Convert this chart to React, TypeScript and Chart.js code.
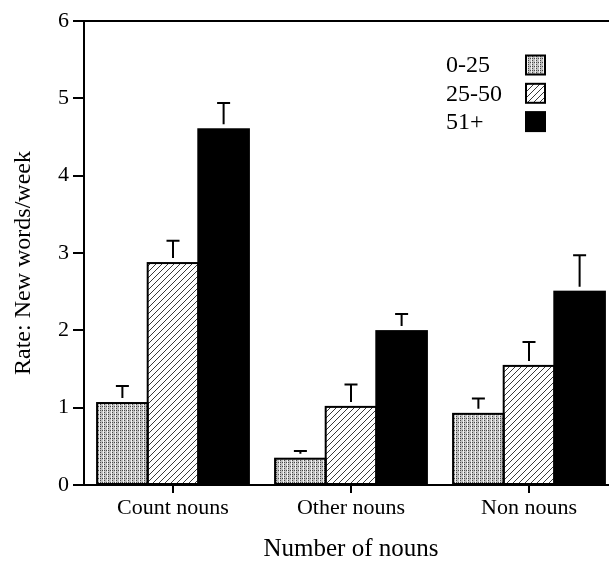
import { useEffect, useRef } from "react";
import { Chart, registerables } from "chart.js";

Chart.register(...registerables);

const categories = ["Count nouns", "Other nouns", "Non nouns"];
const seriesLabels = ["0-25", "25-50", "51+"];
const values0to25 = [1.06, 0.34, 0.92];
const values25to50 = [2.87, 1.01, 1.54];
const values51plus = [4.6, 1.99, 2.5];
const errors0to25 = [0.22, 0.1, 0.2];
const errors25to50 = [0.29, 0.29, 0.31];
const errors51plus = [0.34, 0.22, 0.47];
const yMin = 0;
const yMax = 6;
const yStep = 1;
const xTitle = "Number of nouns";
const yTitle = "Rate: New words/week";

const FONT = "'Liberation Serif', 'Times New Roman', serif";
const CANVAS_W = 624;
const CANVAS_H = 563;

function makeStipple(): CanvasPattern | string {
  const c = document.createElement("canvas");
  c.width = 4;
  c.height = 4;
  const g = c.getContext("2d");
  if (!g) return "#bbb";
  g.fillStyle = "#c0c0c0";
  g.fillRect(0, 0, 4, 4);
  g.fillStyle = "#4a4a4a";
  g.fillRect(0, 0, 1, 1);
  g.fillRect(2, 2, 1, 1);
  g.fillRect(0, 2, 1, 1);
  g.fillStyle = "#f2f2f2";
  g.fillRect(3, 0, 1, 4);
  const p = g.createPattern(c, "repeat");
  return p || "#bbb";
}

function makeHatch(): CanvasPattern | string {
  const s = 6;
  const c = document.createElement("canvas");
  c.width = s;
  c.height = s;
  const g = c.getContext("2d");
  if (!g) return "#fff";
  g.fillStyle = "#ffffff";
  g.fillRect(0, 0, s, s);
  g.strokeStyle = "#3a3a3a";
  g.lineWidth = 1;
  g.beginPath();
  g.moveTo(0, s);
  g.lineTo(s, 0);
  g.moveTo(-1, 1);
  g.lineTo(1, -1);
  g.moveTo(s - 1, s + 1);
  g.lineTo(s + 1, s - 1);
  g.stroke();
  const p = g.createPattern(c, "repeat");
  return p || "#fff";
}

const barDecor = {
  id: "barDecor",
  afterDatasetsDraw(chart: any) {
    const ctx = chart.ctx;
    const yScale = chart.scales.y;
    ctx.save();
    ctx.strokeStyle = "#000";
    ctx.lineWidth = 2;
    chart.data.datasets.forEach((ds: any, i: number) => {
      const meta = chart.getDatasetMeta(i);
      meta.data.forEach((bar: any, j: number) => {
        const { x, y, base, width } = bar.getProps(["x", "y", "base", "width"], true);
        ctx.strokeRect(x - width / 2, y, width, base - y);
        const capY = yScale.getPixelForValue(ds.data[j] + ds.errors[j]);
        ctx.beginPath();
        if (capY < y - 5) {
          ctx.moveTo(x, y - 5);
          ctx.lineTo(x, capY);
        }
        ctx.moveTo(x - 6.5, capY);
        ctx.lineTo(x + 6.5, capY);
        ctx.stroke();
      });
    });
    const a = chart.chartArea;
    ctx.strokeRect(a.left, a.top, a.right - a.left, a.bottom - a.top);
    ctx.restore();
  },
};

const legendPlugin = {
  id: "customLegend",
  afterDraw(chart: any) {
    const ctx = chart.ctx;
    ctx.save();
    ctx.font = `24px ${FONT}`;
    ctx.textAlign = "left";
    ctx.textBaseline = "middle";
    chart.data.datasets.forEach((ds: any, i: number) => {
      const cy = 65 + i * 28.3;
      ctx.fillStyle = "#000";
      ctx.fillText(ds.label, 446, cy + 1);
      ctx.fillStyle = ds.backgroundColor;
      ctx.fillRect(526, cy - 9.5, 19, 19);
      ctx.strokeStyle = "#000";
      ctx.lineWidth = 2;
      ctx.strokeRect(526, cy - 9.5, 19, 19);
    });
    ctx.restore();
  },
};

const yTitlePlugin = {
  id: "yTitle",
  afterDraw(chart: any) {
    const ctx = chart.ctx;
    ctx.save();
    ctx.translate(24, 263);
    ctx.rotate(-Math.PI / 2);
    ctx.font = `24px ${FONT}`;
    ctx.fillStyle = "#000";
    ctx.textAlign = "center";
    ctx.textBaseline = "middle";
    ctx.fillText(yTitle, 0, 0);
    ctx.restore();
  },
};

export default function App() {
  const ref = useRef<HTMLCanvasElement | null>(null);

  useEffect(() => {
    if (!ref.current) return;
    const stipple = makeStipple();
    const hatch = makeHatch();
    const chart = new Chart(ref.current, {
      type: "bar",
      data: {
        labels: categories,
        datasets: [
          { label: seriesLabels[0], data: values0to25, errors: errors0to25, backgroundColor: stipple, borderWidth: 0 } as any,
          { label: seriesLabels[1], data: values25to50, errors: errors25to50, backgroundColor: hatch, borderWidth: 0 } as any,
          { label: seriesLabels[2], data: values51plus, errors: errors51plus, backgroundColor: "#000", borderWidth: 0 } as any,
        ],
      },
      options: {
        animation: false,
        responsive: false,
        devicePixelRatio: 1,
        layout: { padding: { left: 0, right: CANVAS_W - 618, top: 21, bottom: 0 } },
        plugins: { legend: { display: false }, tooltip: { enabled: false } },
        datasets: { bar: { categoryPercentage: 0.853, barPercentage: 1 } },
        scales: {
          x: {
            grid: { display: true, drawOnChartArea: false, drawTicks: true, tickLength: 8, offset: false, color: "#000", lineWidth: 2 },
            border: { display: true, color: "#000", width: 2 },
            ticks: { color: "#000", font: { family: FONT, size: 22 }, padding: 2, maxRotation: 0, autoSkip: false },
            title: { display: true, text: xTitle, color: "#000", font: { family: FONT, size: 25, lineHeight: 1 }, padding: { top: 0, bottom: 1 } },
            afterFit(scale: any) {
              scale.height = CANVAS_H - 485;
            },
          },
          y: {
            min: yMin,
            max: yMax,
            grid: { display: true, drawOnChartArea: false, drawTicks: true, tickLength: 11, color: "#000", lineWidth: 2 },
            border: { display: true, color: "#000", width: 2 },
            ticks: { stepSize: yStep, color: "#000", font: { family: FONT, size: 22 }, padding: 4 },
            title: { display: false },
            afterFit(scale: any) {
              scale.width = 84;
            },
          },
        },
      } as any,
      plugins: [barDecor, legendPlugin, yTitlePlugin],
    });
    return () => chart.destroy();
  }, []);

  return (
    <div style={{ position: "fixed", left: 0, top: 0, width: 609, height: CANVAS_H, overflow: "hidden", background: "#fff" }}>
      <canvas ref={ref} width={CANVAS_W} height={CANVAS_H} style={{ display: "block", width: CANVAS_W, height: CANVAS_H }} />
    </div>
  );
}
